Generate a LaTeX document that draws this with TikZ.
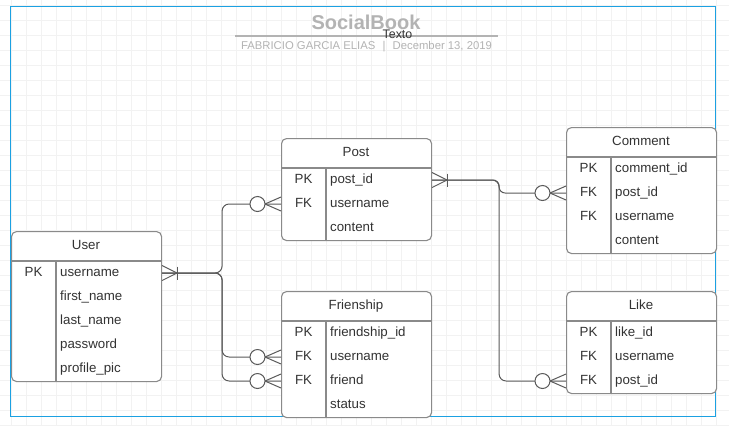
\documentclass[tikz,border=0pt]{standalone}
\usepackage{fontspec}
\setmainfont{Liberation Sans}
\definecolor{gridc}{HTML}{F2F2F2}
\definecolor{framec}{HTML}{1BA1E2}
\definecolor{tblc}{HTML}{8A8A8A}
\definecolor{connc}{HTML}{5A5A5A}
\definecolor{txtc}{HTML}{333333}
\definecolor{ttlc}{HTML}{B3B3B3}
\newcommand\fsrow{\fontsize{13.3bp}{16bp}\selectfont}
\begin{document}
\begin{tikzpicture}[x=1bp,y=-1bp,
  tbl/.style={draw=tblc, line width=1.1bp, rounded corners=5bp, fill=white, inner sep=0, anchor=north west, minimum width=150bp},
  sep/.style={draw=tblc, line width=1.1bp},
  hdr/.style={inner sep=0, text height=9.5bp, text depth=3bp, font=\fsrow, text=txtc},
  key/.style={inner sep=0, text height=9.5bp, text depth=3bp, font=\fsrow, text=txtc},
  fld/.style={inner sep=0, anchor=west, text height=9.5bp, text depth=3bp, font=\fsrow, text=txtc},
  conn/.style={draw=connc, line width=1bp},
  oneMany/.pic={\draw[conn] (0,-7.5) -- (15,0) -- (0,7.5); \draw[conn] (15,-6.5) -- (15,6.5);},
  zeroMany/.pic={\draw[conn] (0,-7) -- (16,0) -- (0,7); \draw[conn, fill=white] (23.5,0) circle (7.5bp);}
]
\useasboundingbox (0,0) rectangle (729,425);
\fill[white] (0,0) rectangle (729,425);
% grid
\foreach \x in {-3.5,11.5,...,730} \draw[gridc, line width=0.8bp] (\x,0) -- (\x,425);
\foreach \y in {5,20,...,425} \draw[gridc, line width=0.8bp] (0,\y) -- (729,\y);
% frame
\draw[framec, line width=1.2bp] (10.5,6.5) rectangle (715.5,416.5);

% title
\node[inner sep=0, font=\bfseries\fontsize{20bp}{24bp}\selectfont, text=ttlc] (ttl) at (366,22) {SocialBook};
\coordinate (tl1) at (235,36);
\coordinate (tl2) at (498,36);
\draw[ttlc, line width=1.5bp] (tl1) -- (tl2);
\node[inner sep=0, font=\fontsize{12.4bp}{14bp}\selectfont, text=txtc] (texto) at (397.5,34) {Texto};
\node[inner sep=0, font=\fontsize{11.3bp}{14bp}\selectfont, text=ttlc] (sub) at (366.5,47) {FABRICIO GARCIA ELIAS\hspace{4bp} | \hspace{4bp}December 13, 2019};

% ---------- User
\node[tbl, minimum height=150bp] (user) at (11,231) {};
\draw[sep] (11,261) -- (161,261);
\draw[sep] (56,261) -- (56,381);
\node[hdr] (uh) at (86,246) {User};
\node[key] (uk1) at (33.5,273) {PK};
\node[fld] (u1) at (60,273) {username};
\node[fld] (u2) at (60,297) {first\_name};
\node[fld] (u3) at (60,321) {last\_name};
\node[fld] (u4) at (60,345) {password};
\node[fld] (u5) at (60,369) {profile\_pic};

% ---------- Post
\node[tbl, minimum height=102bp] (post) at (281,138) {};
\draw[sep] (281,168) -- (431,168);
\draw[sep] (326,168) -- (326,240);
\node[hdr] (ph) at (356,153) {Post};
\node[key] (pk1) at (303.5,180) {PK};
\node[key] (pk2) at (303.5,204) {FK};
\node[fld] (p1) at (330,180) {post\_id};
\node[fld] (p2) at (330,204) {username};
\node[fld] (p3) at (330,228) {content};

% ---------- Comment
\node[tbl, minimum height=126bp] (comment) at (566,127) {};
\draw[sep] (566,157) -- (716,157);
\draw[sep] (611,157) -- (611,253);
\node[hdr] (ch) at (641,142) {Comment};
\node[key] (ck1) at (588.5,169) {PK};
\node[key] (ck2) at (588.5,193) {FK};
\node[key] (ck3) at (588.5,217) {FK};
\node[fld] (c1) at (615,169) {comment\_id};
\node[fld] (c2) at (615,193) {post\_id};
\node[fld] (c3) at (615,217) {username};
\node[fld] (c4) at (615,241) {content};

% ---------- Frienship
\node[tbl, minimum height=126bp] (friend) at (281,291) {};
\draw[sep] (281,321) -- (431,321);
\draw[sep] (326,321) -- (326,417);
\node[hdr] (fh) at (356,306) {Frienship};
\node[key] (fk1) at (303.5,333) {PK};
\node[key] (fk2) at (303.5,357) {FK};
\node[key] (fk3) at (303.5,381) {FK};
\node[fld] (f1) at (330,333) {friendship\_id};
\node[fld] (f2) at (330,357) {username};
\node[fld] (f3) at (330,381) {friend};
\node[fld] (f4) at (330,405) {status};

% ---------- Like
\node[tbl, minimum height=102bp] (like) at (566,291) {};
\draw[sep] (566,321) -- (716,321);
\draw[sep] (611,321) -- (611,393);
\node[hdr] (lh) at (641,306) {Like};
\node[key] (lk1) at (588.5,333) {PK};
\node[key] (lk2) at (588.5,357) {FK};
\node[key] (lk3) at (588.5,381) {FK};
\node[fld] (l1) at (615,333) {like\_id};
\node[fld] (l2) at (615,357) {username};
\node[fld] (l3) at (615,381) {post\_id};

% ---------- connectors
\draw[conn, rounded corners=7bp] (user.east |- u1) -- ++(60,0) |- (post.west |- p2);
\draw[conn, rounded corners=7bp] (user.east |- u1) -- ++(60,0) |- (friend.west |- f2);
\draw[conn, rounded corners=7bp] (user.east |- u1) -- ++(60,0) |- (friend.west |- f3);
\draw[conn, rounded corners=6bp] (post.east |- p1) -- ++(67,0) |- (comment.west |- c2);
\draw[conn, rounded corners=7bp] (post.east |- p1) -- ++(67,0) |- (like.west |- l3);

% ---------- marks
\pic at (user.east |- u1) {oneMany};
\pic at (post.east |- p1) {oneMany};
\pic[xscale=-1] at (post.west |- p2) {zeroMany};
\pic[xscale=-1] at (friend.west |- f2) {zeroMany};
\pic[xscale=-1] at (friend.west |- f3) {zeroMany};
\pic[xscale=-1] at (comment.west |- c2) {zeroMany};
\pic[xscale=-1] at (like.west |- l3) {zeroMany};
\end{tikzpicture}
\end{document}
